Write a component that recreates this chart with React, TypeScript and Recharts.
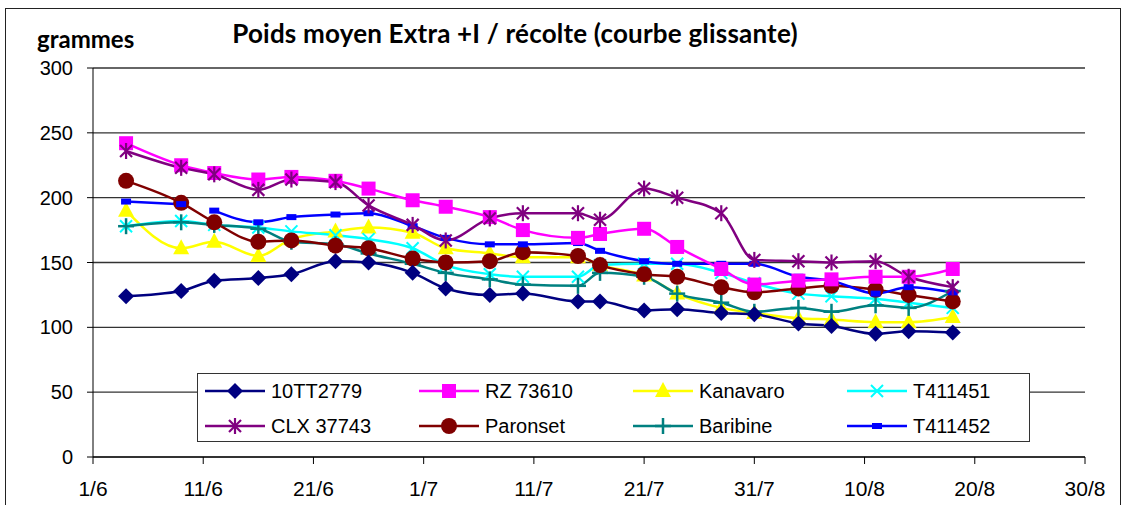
import { LineChart, Line, XAxis, YAxis, CartesianGrid } from 'recharts';

// harvest days, counted from 1/6
const days = [3, 8, 11, 15, 18, 22, 25, 29, 32, 36, 39, 44, 46, 50, 53, 57, 60, 64, 67, 71, 74, 78];

const s10TT2779 = [124, 128, 136, 138, 141, 151, 150, 142, 130, 125, 126, 120, 120, 113, 114, 111, 110, 103, 101, 95, 97, 96];
const sRZ73610 = [242, 225, 219, 214, 216, 213, 207, 198, 193, 185, 175, 169, 172, 176, 162, 145, 133, 136, 137, 139, 139, 145];
const sKanavaro = [190, 161, 166, 155, 168, 174, 177, 173, 161, 157, 154, 154, 148, 140, 126, 115, 111, 107, 106, 104, 104, 108];
const sT411451 = [178, 182, 179, 177, 174, 171, 168, 161, 148, 141, 139, 139, 148, 149, 149, 142, 134, 126, 124, 122, 119, 115];
const sCLX37743 = [236, 223, 218, 206, 214, 212, 194, 179, 167, 184, 188, 188, 183, 207, 200, 188, 152, 151, 150, 151, 139, 131];
const sParonset = [213, 196, 181, 166, 167, 163, 161, 153, 150, 151, 158, 155, 148, 141, 139, 131, 127, 130, 132, 129, 125, 120];
const sBaribine = [178, 181, 179, 176, 166, 164, 157, 149, 142, 137, 133, 132, 142, 139, 126, 119, 112, 115, 112, 117, 115, 128];
const sT411452 = [197, 195, 190, 181, 185, 187, 188, 178, 169, 164, 164, 165, 159, 151, 149, 149, 149, 139, 136, 126, 131, 127];

const xTicks = [0, 10, 20, 30, 40, 50, 60, 70, 80, 90];
const xTickLabels = ['1/6', '11/6', '21/6', '1/7', '11/7', '21/7', '31/7', '10/8', '20/8', '30/8'];
const yTicks = [0, 50, 100, 150, 200, 250, 300];

const data = days.map((d, i) => ({
  day: d,
  a: s10TT2779[i],
  b: sRZ73610[i],
  c: sKanavaro[i],
  d: sT411451[i],
  e: sCLX37743[i],
  f: sParonset[i],
  g: sBaribine[i],
  h: sT411452[i],
}));

type Shape = 'diamond' | 'square' | 'triangle' | 'x' | 'star' | 'circle' | 'plus' | 'dash';

const marker = (shape: Shape, color: string, cx: number, cy: number, key?: string) => {
  switch (shape) {
    case 'diamond':
      return <polygon key={key} points={`${cx},${cy - 8} ${cx + 8},${cy} ${cx},${cy + 8} ${cx - 8},${cy}`} fill={color} />;
    case 'square':
      return <rect key={key} x={cx - 7} y={cy - 7} width={14} height={14} fill={color} />;
    case 'triangle':
      return <polygon key={key} points={`${cx},${cy - 9} ${cx + 8},${cy + 6} ${cx - 8},${cy + 6}`} fill={color} />;
    case 'circle':
      return <circle key={key} cx={cx} cy={cy} r={8} fill={color} />;
    case 'dash':
      return <rect key={key} x={cx - 5} y={cy - 3} width={10} height={6} fill={color} />;
    case 'x':
      return (
        <g key={key} stroke={color} strokeWidth={2}>
          <line x1={cx - 6} y1={cy - 6} x2={cx + 6} y2={cy + 6} />
          <line x1={cx - 6} y1={cy + 6} x2={cx + 6} y2={cy - 6} />
        </g>
      );
    case 'star':
      return (
        <g key={key} stroke={color} strokeWidth={2.2}>
          <line x1={cx - 6} y1={cy - 6} x2={cx + 6} y2={cy + 6} />
          <line x1={cx - 6} y1={cy + 6} x2={cx + 6} y2={cy - 6} />
          <line x1={cx} y1={cy - 8} x2={cx} y2={cy + 8} />
        </g>
      );
    case 'plus':
    default:
      return (
        <g key={key} stroke={color} strokeWidth={2.5}>
          <line x1={cx - 8} y1={cy} x2={cx + 8} y2={cy} />
          <line x1={cx} y1={cy - 8} x2={cx} y2={cy + 8} />
        </g>
      );
  }
};

const series: { key: string; name: string; color: string; shape: Shape }[] = [
  { key: 'a', name: '10TT2779', color: '#000080', shape: 'diamond' },
  { key: 'b', name: 'RZ 73610', color: '#FF00FF', shape: 'square' },
  { key: 'c', name: 'Kanavaro', color: '#FFFF00', shape: 'triangle' },
  { key: 'd', name: 'T411451', color: '#00FFFF', shape: 'x' },
  { key: 'e', name: 'CLX 37743', color: '#800080', shape: 'star' },
  { key: 'f', name: 'Paronset', color: '#800000', shape: 'circle' },
  { key: 'g', name: 'Baribine', color: '#008080', shape: 'plus' },
  { key: 'h', name: 'T411452', color: '#0000FF', shape: 'dash' },
];

// draw order like the original (yellow / cyan under the others)
const drawOrder = ['c', 'd', 'g', 'f', 'a', 'h', 'b', 'e'];

const makeDot = (shape: Shape, color: string) => (props: any) => {
  const { cx, cy, index, value } = props;
  if (cx == null || cy == null || value == null) return <g key={`n-${index}`} />;
  return marker(shape, color, cx, cy, `d-${index}`);
};

const App = () => {
  const font = '"Liberation Sans", Arial, sans-serif';
  return (
    <div style={{ position: 'relative', width: 1127, height: 505, background: '#fff', overflow: 'hidden' }}>
      <style>{'body{margin:0}'}</style>
      <div
        style={{
          position: 'absolute',
          left: 5,
          top: 8,
          width: 1116,
          height: 520,
          border: '1.5px solid #222',
          boxSizing: 'border-box',
        }}
      />
      <div
        style={{
          position: 'absolute',
          left: 0,
          width: 1030,
          top: 17,
          textAlign: 'center',
          fontFamily: 'Lato, sans-serif',
          fontWeight: 700,
          fontSize: 26,
          letterSpacing: 0.2,
          color: '#000',
        }}
      >
        Poids moyen Extra +I / récolte (courbe glissante)
      </div>
      <div
        style={{
          position: 'absolute',
          left: 37,
          top: 25,
          lineHeight: '28px',
          fontFamily: 'Lato, sans-serif',
          fontWeight: 700,
          fontSize: 24,
          color: '#000',
        }}
      >
        grammes
      </div>
      <div style={{ position: 'absolute', left: 0, top: 0 }}>
        <LineChart width={1127} height={505} data={data} margin={{ top: 68, right: 42, bottom: 8, left: 33 }}>
          <CartesianGrid vertical={false} stroke="#333" strokeWidth={1.3} />
          <XAxis
            dataKey="day"
            type="number"
            domain={[0, 90]}
            ticks={xTicks}
            tickFormatter={(v: number) => xTickLabels[xTicks.indexOf(v)]}
            height={40}
            tickSize={7}
            tickMargin={17}
            stroke="#000"
            tick={{ fill: '#000', fontSize: 21, fontFamily: font }}
            interval={0}
          />
          <YAxis
            domain={[0, 300]}
            ticks={yTicks}
            width={60}
            tickSize={6}
            tickMargin={14}
            stroke="#000"
            tick={{ fill: '#000', fontSize: 20, fontFamily: font }}
            interval={0}
          />
          {drawOrder.map((k) => {
            const s = series.find((x) => x.key === k)!;
            if (k === 'h') {
              return [
                <Line
                  key="h1"
                  type="monotone"
                  dataKey={(r: any) => (r.day <= 8 ? r.h : null)}
                  stroke={s.color}
                  strokeWidth={2.5}
                  dot={makeDot(s.shape, s.color)}
                  activeDot={false}
                  isAnimationActive={false}
                />,
                <Line
                  key="h2"
                  type="monotone"
                  dataKey={(r: any) => (r.day >= 11 ? r.h : null)}
                  stroke={s.color}
                  strokeWidth={2.5}
                  dot={makeDot(s.shape, s.color)}
                  activeDot={false}
                  isAnimationActive={false}
                />,
              ];
            }
            return (
              <Line
                key={k}
                type="monotone"
                dataKey={k}
                name={s.name}
                stroke={s.color}
                strokeWidth={2.5}
                dot={makeDot(s.shape, s.color)}
                activeDot={false}
                isAnimationActive={false}
              />
            );
          })}
        </LineChart>
      </div>
      <div
        style={{
          position: 'absolute',
          left: 197,
          top: 373,
          width: 833,
          height: 69,
          border: '1px solid #333',
          boxSizing: 'border-box',
          background: '#fff',
        }}
      >
        {series.map((s, i) => {
          const col = i % 4;
          const row = Math.floor(i / 4);
          return (
            <div
              key={s.key}
              style={{
                position: 'absolute',
                left: 7 + col * 214,
                top: 2 + row * 35,
                height: 30,
                display: 'flex',
                alignItems: 'center',
                fontFamily: font,
                fontSize: 20,
                color: '#000',
              }}
            >
              <svg width={62} height={30} style={{ marginRight: 4 }}>
                <line x1={0} y1={15} x2={60} y2={15} stroke={s.color} strokeWidth={2.5} />
                {marker(s.shape, s.color, 30, 15)}
              </svg>
              {s.name}
            </div>
          );
        })}
      </div>
    </div>
  );
};

export default App;
